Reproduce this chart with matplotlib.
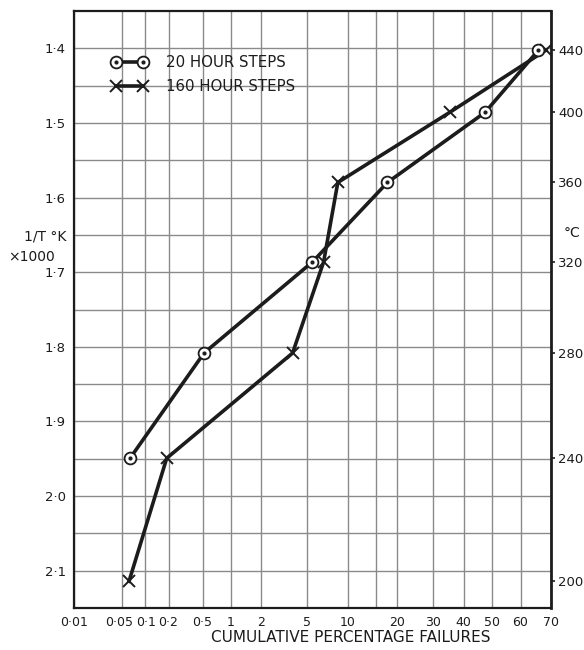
import numpy as np
import matplotlib
matplotlib.use('Agg')
import matplotlib.pyplot as plt
from matplotlib.transforms import ScaledTranslation
from matplotlib.ticker import FixedLocator, FixedFormatter
from matplotlib.lines import Line2D
from statistics import NormalDist

# ---------------- data ----------------
temps_c = [440, 400, 360, 320, 280, 240, 200]          # test temperatures (deg C)
temps_20h = [440, 400, 360, 320, 280, 240]
fail_20h = [66, 47.5, 17.6, 5.5, 0.52, 0.064]          # cumulative % failures, 20 hour steps
temps_160h = [440, 400, 360, 320, 280, 240, 200]
fail_160h = [68.4, 35.3, 8.5, 6.7, 3.8, 0.19, 0.062]   # cumulative % failures, 160 hour steps

x_ticks = [0.01, 0.05, 0.1, 0.2, 0.5, 1, 2, 5, 10, 20, 30, 40, 50, 60, 70]
x_tick_labels = ['0·01', '0·05', '0·1', '0·2', '0·5', '1', '2', '5', '10',
                 '20', '30', '40', '50', '60', '70']
x_minor = [15]
y_ticks = [1.4, 1.5, 1.6, 1.7, 1.8, 1.9, 2.0, 2.1]
y_tick_labels = ['1·4', '1·5', '1·6', '1·7', '1·8', '1·9', '2·0', '2·1']
y_minor = [1.45, 1.55, 1.65, 1.75, 1.85, 1.95, 2.05]
c_ticks = [440, 400, 360, 320, 280, 240, 200]


def inv_kelvin(c):
    return [1000.0 / (t + 273.0) for t in c]


_nd = NormalDist()
_ppf = np.vectorize(lambda q: _nd.inv_cdf(q) if 0 < q < 1 else np.nan, otypes=[float])
_cdf = np.vectorize(_nd.cdf, otypes=[float])


def fwd(p):
    p = np.asarray(p, dtype=float)
    return _ppf(np.clip(p / 100.0, 1e-12, 1 - 1e-12))


def inv(z):
    z = np.asarray(z, dtype=float)
    return _cdf(z) * 100.0


plt.rcParams['font.family'] = ['DejaVu Sans']
INK = '#1c1c1c'
GRID = '#8a8a8a'

fig = plt.figure(figsize=(5.84, 6.5), dpi=100)
W, H = 584, 650
L, R, T, B = 74, 551, 11, 608
ax = fig.add_axes([L / W, 1 - B / H, (R - L) / W, (B - T) / H])

ax.set_xscale('function', functions=(fwd, inv))
ax.set_xlim(0.01, 70)
ax.set_ylim(2.15, 1.35)

ax.xaxis.set_major_locator(FixedLocator(x_ticks))
ax.xaxis.set_major_formatter(FixedFormatter(x_tick_labels))
ax.xaxis.set_minor_locator(FixedLocator(x_minor))
ax.xaxis.set_minor_formatter(FixedFormatter(['']))
ax.yaxis.set_major_locator(FixedLocator(y_ticks))
ax.yaxis.set_major_formatter(FixedFormatter(y_tick_labels))
ax.yaxis.set_minor_locator(FixedLocator(y_minor))

ax.grid(True, which='both', color=GRID, lw=1.0)
ax.set_axisbelow(True)
ax.tick_params(axis='both', which='both', length=0, labelsize=9.5, colors=INK)
ax.tick_params(axis='x', which='major', pad=6, labelsize=9)
ax.tick_params(axis='y', pad=6)
for s in ax.spines.values():
    s.set_linewidth(1.6)
    s.set_color(INK)

# nudge the crowded low-percentage labels apart slightly
nudges = {1: -3, 2: 1}
for i, tk in enumerate(ax.xaxis.get_major_ticks()):
    if i in nudges:
        lab = tk.label1
        lab.set_transform(lab.get_transform() + ScaledTranslation(nudges[i] / 100, 0, fig.dpi_scale_trans))

# right axis in deg C
ax2 = ax.twinx()
ax2.set_ylim(ax.get_ylim())
ax2.yaxis.set_major_locator(FixedLocator(inv_kelvin(c_ticks)))
ax2.yaxis.set_major_formatter(FixedFormatter([str(c) for c in c_ticks]))
ax2.tick_params(axis='y', length=3, width=1.2, pad=2, labelsize=9.5, colors=INK)
for s in ax2.spines.values():
    s.set_visible(False)
ax.spines['right'].set_linewidth(2.0)

# series
y20 = inv_kelvin(temps_20h)
y160 = inv_kelvin(temps_160h)
ax.plot(fail_20h, y20, color=INK, lw=2.6, zorder=3, solid_capstyle='butt')
ax.plot(fail_20h, y20, ls='none', marker='o', ms=8.5, mfc='white', mec=INK, mew=1.3, zorder=4)
ax.plot(fail_20h, y20, ls='none', marker='o', ms=2.0, color=INK, zorder=5)
ax.plot(fail_160h, y160, color=INK, lw=2.6, marker='x', ms=8, mew=1.4, zorder=3)

h20 = (Line2D([], [], color=INK, lw=2.6),
       Line2D([], [], ls='none', marker='o', ms=8.5, mfc='white', mec=INK, mew=1.3),
       Line2D([], [], ls='none', marker='o', ms=2.0, color=INK))
h160 = (Line2D([], [], color=INK, lw=2.6, marker='x', ms=8, mew=1.4),)
leg = ax.legend([h20, h160], ['20 HOUR STEPS', '160 HOUR STEPS'], numpoints=2,
                loc='upper left', bbox_to_anchor=((111 - L) / (R - L), (B - 55) / (B - T)),
                frameon=False, borderpad=0, borderaxespad=0, handlelength=2.4,
                handletextpad=1.3, labelspacing=0.6, prop={'size': 10.8})
for t in leg.get_texts():
    t.set_color(INK)

# labels
fig.text(66 / W, 1 - 236 / H, '1/T °K', ha='right', va='center', fontsize=10, color=INK)
fig.text(8 / W, 1 - 257 / H, '×1000', ha='left', va='center', fontsize=10, color=INK)
fig.text(572 / W, 1 - 233 / H, '°C', ha='center', va='center', fontsize=10, color=INK)
fig.text(351 / W, 1 - 638 / H, 'CUMULATIVE PERCENTAGE FAILURES', ha='center', va='center',
         fontsize=11, color=INK)

fig.savefig('out.png', dpi=100, facecolor='white')
